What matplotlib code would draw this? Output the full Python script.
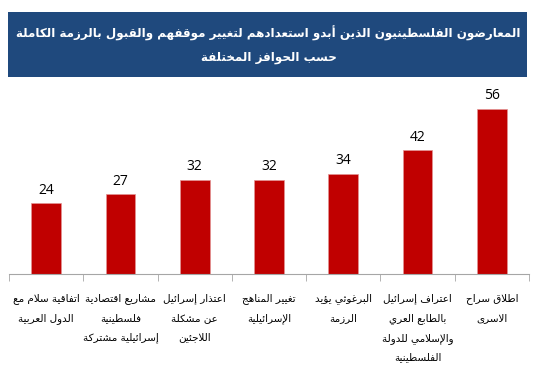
import matplotlib
matplotlib.use('Agg')
import matplotlib.pyplot as plt
from matplotlib.patches import Rectangle

# data (left to right as in the picture)
categories = [
    'اتفاقية سلام مع\nالدول العربية',
    'مشاريع اقتصادية\nفلسطينية\nإسرائيلية مشتركة',
    'اعتذار إسرائيل\nعن مشكلة\nاللاجئين',
    'تغيير المناهج\nالإسرائيلية',
    'البرغوثي يؤيد\nالرزمة',
    'اعتراف إسرائيل\nبالطابع العري\nوالإسلامي للدولة\nالفلسطينية',
    'اطلاق سراح\nالاسرى',
]
values = [24, 27, 32, 32, 34, 42, 56]
title_lines = [
    'المعارضون الفلسطينيون الذين أبدو استعدادهم لتغيير موقفهم والقبول بالرزمة الكاملة',
    'حسب الحوافز المختلفة',
]

# matplotlib does not join arabic letters, so pick presentation forms by hand
LETTERS = 'ءآأؤإئابةتثجحخدذرزسشصضطظعغفقكلمنهوىي'
N_FORMS = [1, 2, 2, 2, 2, 4, 2, 4, 2, 4, 4, 4, 4, 4, 2, 2, 2, 2,
           4, 4, 4, 4, 4, 4, 4, 4, 4, 4, 4, 4, 4, 4, 4, 2, 2, 4]
forms = {}
code = 0xFE80
for ch, n in zip(LETTERS, N_FORMS):
    forms[ch] = [chr(code + k) for k in range(n)]  # isolated, final, initial, medial
    code += n
LAM_ALEF = {'آ': 0xFEF5, 'أ': 0xFEF7, 'إ': 0xFEF9, 'ا': 0xFEFB}


def shape_line(s):
    out = []
    i = 0
    while i < len(s):
        ch = s[i]
        if ch not in forms:
            out.append(ch)
            i += 1
            continue
        prev = s[i - 1] if i > 0 else ''
        joins_prev = prev in forms and len(forms[prev]) == 4 and len(forms[ch]) > 1
        if ch == 'ل' and i + 1 < len(s) and s[i + 1] in LAM_ALEF:
            out.append(chr(LAM_ALEF[s[i + 1]] + (1 if joins_prev else 0)))
            i += 2
            continue
        nxt = s[i + 1] if i + 1 < len(s) else ''
        joins_next = len(forms[ch]) == 4 and nxt in forms and len(forms[nxt]) > 1
        if joins_prev and joins_next:
            k = 3
        elif joins_prev:
            k = 1
        elif joins_next:
            k = 2
        else:
            k = 0
        out.append(forms[ch][k])
        i += 1
    return ''.join(out)[::-1]


def shape(s):
    return '\n'.join(shape_line(l) for l in s.split('\n'))


W, H = 537, 389
fig = plt.figure(figsize=(W / 100, H / 100), dpi=100)

# title box
fig.patches.append(Rectangle((8 / W, 1 - 77 / H), 519 / W, 65 / H,
                             transform=fig.transFigure, facecolor='#1F497D',
                             edgecolor='none'))
fig.text(0.5, 1 - 33 / H, shape(title_lines[0]), color='white', fontsize=8.6,
         fontweight='bold', ha='center', va='center', family='DejaVu Sans')
fig.text(0.5, 1 - 57 / H, shape(title_lines[1]), color='white', fontsize=8.6,
         fontweight='bold', ha='center', va='center', family='DejaVu Sans')

ax = fig.add_axes([9 / W, 1 - 274 / H, 520 / W, 176.8 / H])
x = list(range(len(values)))
ax.bar(x, values, width=0.4, color='#C00000', edgecolor='#E39494', linewidth=0.5)
for xi, v in zip(x, values):
    ax.annotate(str(v), (xi, min(v, 56.5)), xytext=(0, 4), textcoords='offset points',
                ha='center', va='bottom', fontsize=10, family='Open Sans')

ax.set_xlim(-0.5, len(values) - 0.5)
ax.set_ylim(0, 60)
ax.set_yticks([])
for side in ['top', 'left', 'right']:
    ax.spines[side].set_visible(False)
ax.spines['bottom'].set_color('#A6A6A6')

ax.set_xticks(x)
ax.set_xticklabels([shape(c) for c in categories], fontsize=7.5,
                   family='DejaVu Sans', linespacing=2.1)
ax.tick_params(axis='x', which='major', length=0, pad=14)
ax.set_xticks([k - 0.5 for k in range(len(values) + 1)], minor=True)
ax.tick_params(axis='x', which='minor', length=5, color='#A6A6A6')

fig.savefig('out.png', dpi=100)
